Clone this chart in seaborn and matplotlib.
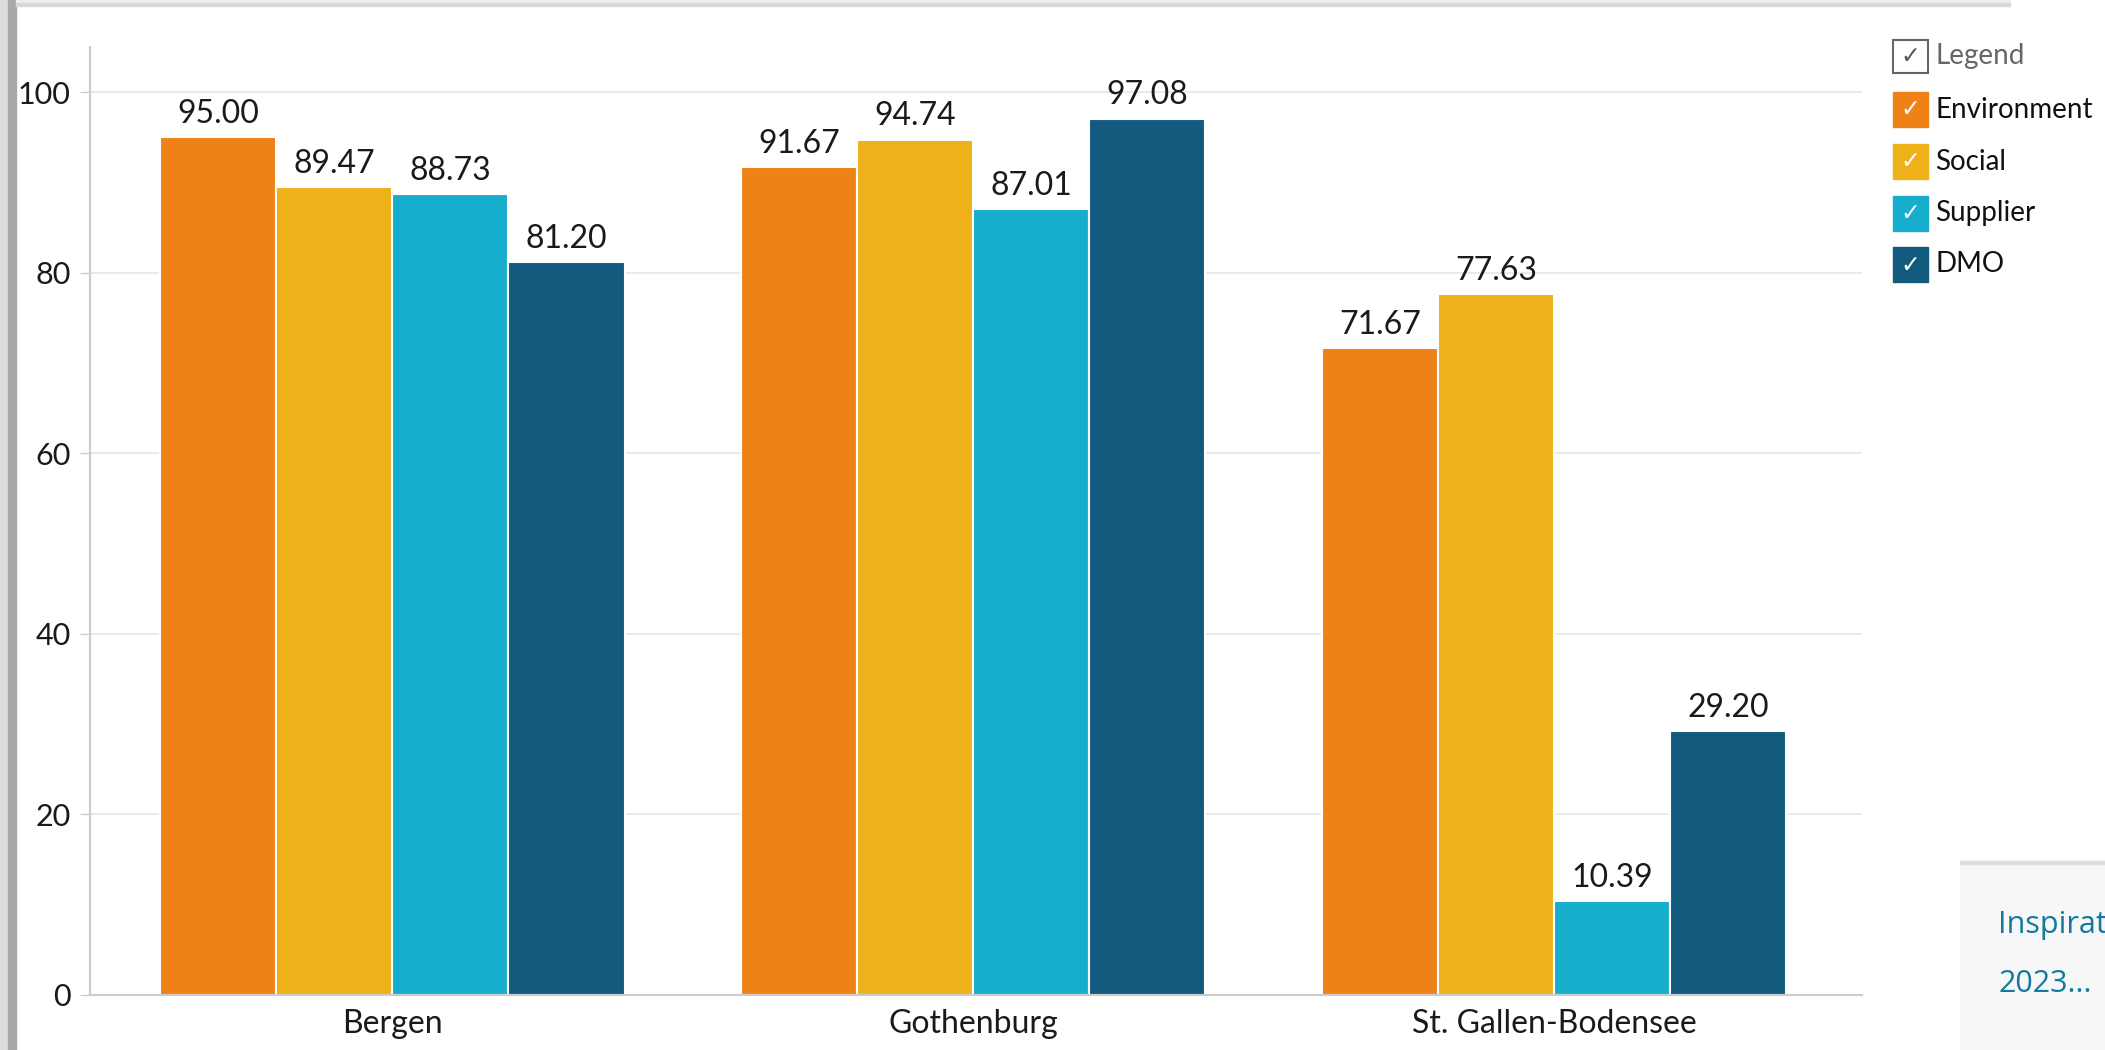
import numpy as np
import pandas as pd
import matplotlib.pyplot as plt
import seaborn as sns
from matplotlib.patches import Rectangle

# data
cities = ['Bergen', 'Gothenburg', 'St. Gallen-Bodensee']
categories = ['Environment', 'Social', 'Supplier', 'DMO']
environment = [95.00, 91.67, 71.67]
social = [89.47, 94.74, 77.63]
supplier = [88.73, 87.01, 10.39]
dmo = [81.20, 97.08, 29.20]
colors = ['#EE8219', '#EFB11A', '#16AECC', '#135B7E']
y_ticks = [0, 20, 40, 60, 80, 100]

df = pd.DataFrame({'city': cities * 4,
                   'category': np.repeat(categories, 3),
                   'score': environment + social + supplier + dmo})

sns.set_theme(style='white')
plt.rcParams['font.family'] = ['Lato', 'DejaVu Sans']

W, H = 2105, 1050
fig = plt.figure(figsize=(W / 100, H / 100), dpi=100)
ax = fig.add_axes([90 / W, 55 / H, (1862 - 90) / W, (1003 - 55) / H])

sns.barplot(data=df, x='city', y='score', hue='category', order=cities,
            hue_order=categories, palette=colors, width=0.8,
            edgecolor='white', linewidth=1.5, saturation=1, ax=ax)
ax.get_legend().remove()

for c in ax.containers:
    ax.bar_label(c, fmt='%.2f', padding=6, fontsize=23, color='#1a1a1a')

ax.set_ylim(0, 105)
ax.set_xlim(-0.52, 2.53)
ax.set_yticks(y_ticks)
ax.set_xlabel('')
ax.set_ylabel('')
ax.grid(axis='y', color='#e6e6e6', linewidth=1.2)
ax.set_axisbelow(True)
for s in ['top', 'right']:
    ax.spines[s].set_visible(False)
for s in ['left', 'bottom']:
    ax.spines[s].set_color('#cccccc')
    ax.spines[s].set_linewidth(1.5)
ax.tick_params(axis='y', length=7, width=1, color='#cccccc', pad=7,
               labelsize=22, labelcolor='#1a1a1a', left=True)
ax.tick_params(axis='x', length=0, pad=10, labelsize=23, labelcolor='#1a1a1a')

# card shadows (screenshot frame)
fig.patches.append(Rectangle((0, 0), 8 / W, 1, transform=fig.transFigure,
                             color='#dcdcdc', zorder=0))
fig.patches.append(Rectangle((8 / W, 0), 8 / W, 1, transform=fig.transFigure,
                             color='#a9a9a9', zorder=0))
fig.patches.append(Rectangle((16 / W, 1 - 3 / H), (2010 - 16) / W, 3 / H,
                             transform=fig.transFigure, color='#eeeeee', zorder=0))
fig.patches.append(Rectangle((16 / W, 1 - 6 / H), (2010 - 16) / W, 3 / H,
                             transform=fig.transFigure, color='#d9d9d9', zorder=0))

# legend drawn by hand, checkbox style
sq = 35
fig.patches.append(Rectangle((1893 / W, 1 - 73 / H), sq / W, 33 / H,
                             transform=fig.transFigure, facecolor='white',
                             edgecolor='#666666', linewidth=1.5))
fig.text((1893 + sq / 2) / W, 1 - 56 / H, '✓', color='#555555', fontsize=17,
         ha='center', va='center', family=['DejaVu Sans'])
fig.text(1935 / W, 1 - 56 / H, 'Legend', color='#666666', fontsize=20,
         ha='left', va='center')
row_tops = [92, 144, 196, 247]
for name, col, top in zip(categories, colors, row_tops):
    fig.patches.append(Rectangle((1893 / W, 1 - (top + sq) / H), sq / W, sq / H,
                                 transform=fig.transFigure, color=col))
    fig.text((1893 + sq / 2) / W, 1 - (top + sq / 2) / H, '✓', color='white',
             fontsize=17, ha='center', va='center', family=['DejaVu Sans'])
    fig.text(1935 / W, 1 - (top + sq / 2) / H, name, color='#111111',
             fontsize=20, ha='left', va='center')

# clipped caption box bottom right
fig.patches.append(Rectangle((1960 / W, 0), (W - 1960) / W, (H - 862) / H,
                             transform=fig.transFigure, facecolor='#f7f7f7',
                             edgecolor='none'))
fig.patches.append(Rectangle((1960 / W, (H - 864) / H), (W - 1960) / W, 3 / H,
                             transform=fig.transFigure, color='#dddddd'))
fig.text(1998 / W, 1 - 933 / H, 'Inspirat', color='#13799F', fontsize=22,
         ha='left', va='baseline', family=['Open Sans', 'DejaVu Sans'])
fig.text(1998 / W, 1 - 992 / H, '2023...', color='#13799F', fontsize=22,
         ha='left', va='baseline', family=['Open Sans', 'DejaVu Sans'])

fig.savefig('out.png', dpi=100)
